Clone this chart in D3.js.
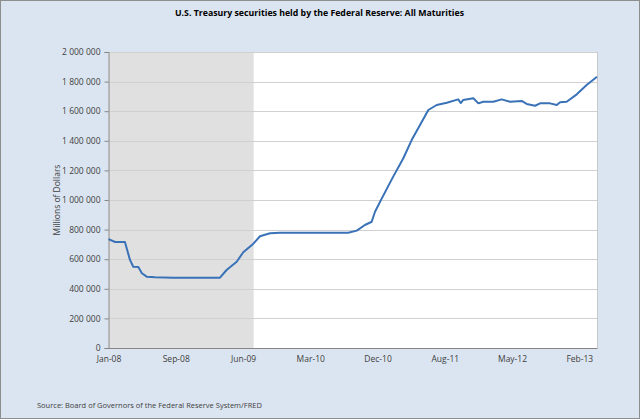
<!DOCTYPE html>
<html>
<head>
<meta charset="utf-8">
<script src="https://cdn.jsdelivr.net/npm/d3@7"></script>
<style>
  body { margin: 0; }
  svg { display: block; }
</style>
</head>
<body>
<svg id="root" width="640" height="419"></svg>
<script>
// readings: date, millions of dollars
const dates = [
  '2008-01-02', '2008-01-28', '2008-03-07', '2008-03-14', '2008-03-27', '2008-04-09',
  '2008-04-29', '2008-05-13', '2008-06-01', '2008-07-04', '2008-09-14', '2009-03-18',
  '2009-04-13', '2009-05-23', '2009-06-18', '2009-07-28', '2009-08-23', '2009-10-02',
  '2009-11-10', '2010-08-07', '2010-09-10', '2010-10-12', '2010-11-08', '2010-11-21',
  '2010-12-18', '2011-02-01', '2011-03-13', '2011-04-15', '2011-05-18', '2011-06-20',
  '2011-07-23', '2011-09-01', '2011-10-16', '2011-10-26', '2011-11-05', '2011-12-15',
  '2012-01-04', '2012-01-23', '2012-03-03', '2012-04-05', '2012-05-08', '2012-06-23',
  '2012-07-13', '2012-08-15', '2012-09-04', '2012-10-13', '2012-11-09', '2012-11-22',
  '2012-12-18', '2013-01-27', '2013-03-07', '2013-04-17'
];
const holdings = [
  736000, 716000, 716000, 674000, 595000, 549000,
  547000, 505000, 482000, 478000, 475000, 475000,
  527000, 583000, 647000, 705000, 755000, 775000,
  779000, 779000, 793000, 831000, 853000, 921000,
  1011000, 1158000, 1282000, 1405000, 1507000, 1608000,
  1642000, 1657000, 1680000, 1655000, 1676000, 1687000,
  1653000, 1664000, 1664000, 1680000, 1664000, 1669000,
  1649000, 1637000, 1653000, 1653000, 1642000, 1660000,
  1664000, 1714000, 1777000, 1833000
];
const tickLabels = ['2008-01-02', '2008-09-24', '2009-06-17', '2010-03-10', '2010-12-01', '2011-08-24', '2012-05-16', '2013-02-06'];
const yTicks = [0, 200000, 400000, 600000, 800000, 1000000, 1200000, 1400000, 1600000, 1800000, 2000000];
const recession = ['2008-01-02', '2009-07-29'];

const parse = d3.timeParse('%Y-%m-%d');
const data = dates.map((d, i) => ({ date: parse(d), value: holdings[i] }));

const root = d3.select('#root');
const W = +root.attr('width');
const H = +root.attr('height');
const plotLeft = 108.5, plotRight = 597, plotTop = 52, plotBottom = 348;

root.append('rect')
  .attr('x', 0.5).attr('y', 0.5)
  .attr('width', W - 1).attr('height', H - 1)
  .attr('fill', '#dbe5f1')
  .attr('stroke', '#8e8e8e');

const x = d3.scaleTime().domain([parse(dates[0]), parse(dates[dates.length - 1])]).range([plotLeft, plotRight]);
const y = d3.scaleLinear().domain([0, 2000000]).range([plotBottom, plotTop]);

root.append('rect')
  .attr('x', plotLeft).attr('y', plotTop)
  .attr('width', plotRight - plotLeft).attr('height', plotBottom - plotTop)
  .attr('fill', '#ffffff');

root.append('rect')
  .attr('x', x(parse(recession[0]))).attr('y', plotTop)
  .attr('width', x(parse(recession[1])) - x(parse(recession[0])))
  .attr('height', plotBottom - plotTop)
  .attr('fill', '#e0e0e0');

// gridlines
root.append('g')
  .selectAll('line')
  .data(yTicks.slice(1))
  .enter()
  .append('line')
  .attr('x1', plotLeft).attr('x2', plotRight)
  .attr('y1', d => Math.round(y(d)) + 0.5)
  .attr('y2', d => Math.round(y(d)) + 0.5)
  .attr('stroke', '#d0d0d0');

root.append('line')
  .attr('x1', plotRight + 0.5).attr('x2', plotRight + 0.5)
  .attr('y1', plotTop).attr('y2', plotBottom)
  .attr('stroke', '#c8c8c8');

const spaced = d3.formatLocale({ decimal: '.', thousands: '\u00a0', grouping: [3], currency: ['', ''] });

const yAxis = root.append('g')
  .attr('transform', `translate(${plotLeft},0)`)
  .call(d3.axisLeft(y).tickValues(yTicks).tickFormat(spaced.format(',')).tickSize(4).tickPadding(4));

const xAxis = root.append('g')
  .attr('transform', `translate(0,${plotBottom})`)
  .call(d3.axisBottom(x).tickValues(tickLabels.map(parse)).tickFormat(d3.timeFormat('%b-%y')).tickSize(0).tickPadding(8));

[yAxis, xAxis].forEach(g => {
  g.select('.domain').attr('stroke', '#868686');
  g.selectAll('.tick line').attr('stroke', '#868686');
  g.selectAll('.tick text')
    .attr('fill', '#404040')
    .style('font-family', '"Open Sans", sans-serif')
    .style('font-size', '8.5px');
});

const line = d3.line()
  .x(d => x(d.date))
  .y(d => y(d.value));

root.append('path')
  .datum(data)
  .attr('d', line)
  .attr('fill', 'none')
  .attr('stroke', '#3a72b8')
  .attr('stroke-width', 2)
  .attr('stroke-linejoin', 'round');

root.append('text')
  .attr('x', 319.5).attr('y', 16)
  .attr('text-anchor', 'middle')
  .attr('textLength', 289)
  .attr('lengthAdjust', 'spacingAndGlyphs')
  .style('font-family', '"Open Sans", sans-serif')
  .style('font-weight', 'bold')
  .style('font-size', '9.5px')
  .attr('fill', '#000')
  .text('U.S. Treasury securities held by the Federal Reserve: All Maturities');

root.append('text')
  .attr('transform', 'translate(60,200) rotate(-90)')
  .attr('text-anchor', 'middle')
  .style('font-family', '"Open Sans", sans-serif')
  .style('font-size', '8.5px')
  .attr('fill', '#404040')
  .text('Millions of Dollars');

root.append('text')
  .attr('x', 37).attr('y', 408)
  .style('font-family', '"Open Sans", sans-serif')
  .style('font-size', '7.5px')
  .attr('fill', '#404040')
  .text('Source: Board of Governors of the Federal Reserve System/FRED');
</script>
</body>
</html>
